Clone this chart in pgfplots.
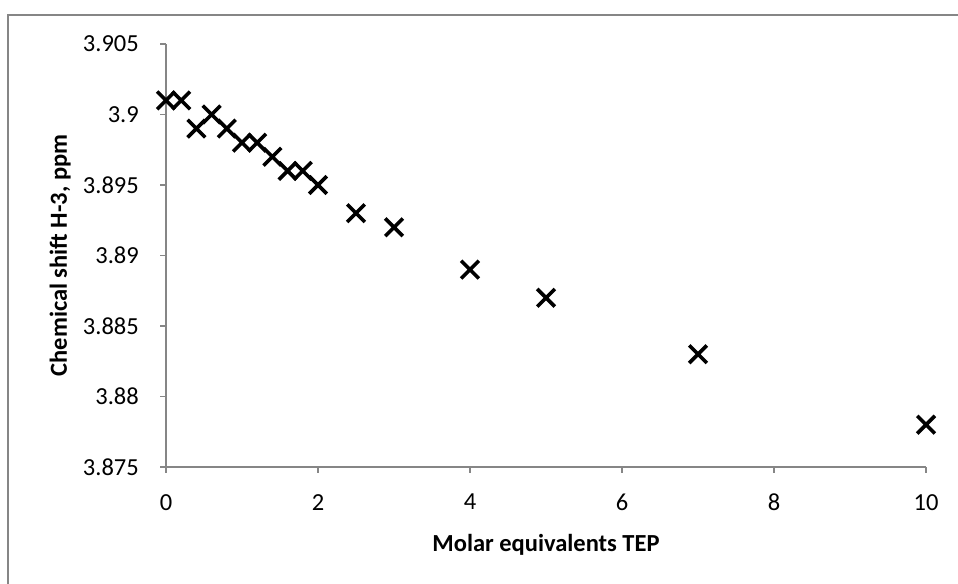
\documentclass[border=0pt]{standalone}
\usepackage{pgfplots}
\pgfplotsset{compat=1.18}
\usepackage{fontspec}
\setmainfont{Carlito}
\definecolor{axgray}{HTML}{868686}
\begin{document}
\begin{tikzpicture}[x=1bp,y=1bp]
\useasboundingbox (0,0) rectangle (958,584);
\begin{scope}
\clip (0,0) rectangle (958,584);
\draw[axgray, line width=1.6bp] (7.8,-10) -- (7.8,569.2) -- (970,569.2);
\end{scope}
\begin{axis}[
  at={(166bp,117bp)}, anchor=origin,
  scale only axis, width=760bp, height=423bp,
  xmin=0, xmax=10, ymin=3.875, ymax=3.905,
  axis x line=bottom, axis y line=left,
  axis line style={-, axgray, line width=1.3bp},
  tick style={axgray, line width=1.3bp},
  tick align=outside, major tick length=6bp,
  xtick={0,2,4,6,8,10}, xticklabels={0,2,4,6,8,10},
  ytick={3.875,3.88,3.885,3.89,3.895,3.9,3.905},
  yticklabels={3.875,3.88,3.885,3.89,3.895,3.9,3.905},
  minor tick num=0,
  tick label style={font=\fontsize{24.5bp}{29bp}\selectfont, inner sep=0pt, text=black},
  xticklabel style={anchor=north, yshift=-21bp},
  yticklabel style={anchor=east, xshift=-21bp},
  label style={font=\bfseries\fontsize{24.5bp}{29bp}\selectfont, text=black},
  xlabel={Molar equivalents TEP},
  ylabel={Chemical shift  H-3, ppm},
  xlabel style={at={(axis description cs:0.5,-0.2009)}, anchor=base, inner sep=0pt},
  ylabel style={at={(axis description cs:-0.1303,0.5)}, anchor=base, rotate=0, inner sep=0pt},
  clip=false,
]
\addplot[only marks, mark=x, mark size=12.5bp, line width=3.6bp, black] coordinates {
(0,3.901) (0.2,3.901) (0.4,3.899) (0.6,3.900) (0.8,3.899) (1.0,3.898)
(1.2,3.898) (1.4,3.897) (1.6,3.896) (1.8,3.896) (2.0,3.895)
(2.5,3.893) (3,3.892) (4,3.889) (5,3.887) (7,3.883) (10,3.878)
};
\end{axis}
\end{tikzpicture}
\end{document}
